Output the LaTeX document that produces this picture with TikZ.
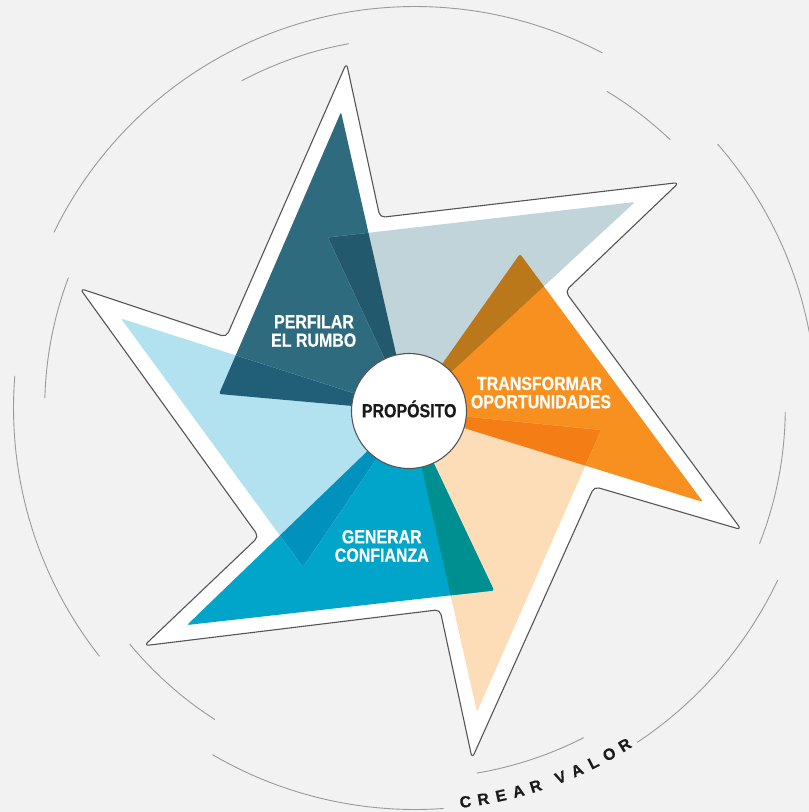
\documentclass[tikz,border=0pt]{standalone}
\usepackage{fontspec}
\setmainfont{Liberation Sans}
\newfontfamily\condfont{Liberation Sans}[FakeStretch=0.84,FakeBold=0.5]
\newfontfamily\ringfont{Liberation Sans}[FakeBold=0.3]
\definecolor{bg}{HTML}{F2F2F2}
\definecolor{ringgray}{HTML}{9A9A9A}
\definecolor{starline}{HTML}{555555}
\definecolor{cteal}{HTML}{2E6B7F}
\definecolor{clgray}{HTML}{C0D4DA}
\definecolor{corange}{HTML}{F7901E}
\definecolor{cpeach}{HTML}{FDDDB8}
\definecolor{cblue}{HTML}{00A5C9}
\definecolor{clblue}{HTML}{B2E2EF}
\definecolor{oTL}{HTML}{23596C}
\definecolor{oTB}{HTML}{205F77}
\definecolor{oLO}{HTML}{BA781A}
\definecolor{oOP}{HTML}{F57D16}
\definecolor{oPB}{HTML}{008F91}
\definecolor{oBL}{HTML}{0092BC}
\definecolor{txtdark}{HTML}{1A1A1A}
\def\trTeal{(341,112) -- (219,394) -- (409,411) -- cycle}
\def\trLgray{(635,202) -- (328,237.5) -- (409,411) -- cycle}
\def\trOrange{(520,254) -- (703,502) -- (409,411) -- cycle}
\def\trPeach{(601,430) -- (477,712) -- (409,411) -- cycle}
\def\trBlue{(494,590.5) -- (187,625) -- (409,411) -- cycle}
\def\trLblue{(121,318.5) -- (303,567) -- (409,411) -- cycle}
\begin{document}
\begin{tikzpicture}[x=1pt,y=-1pt,
  tri/.style={rounded corners=2pt},
  ring/.style={draw=ringgray, line width=0.9pt},
  lbl/.style={font=\condfont\bfseries\fontsize{19}{19}\selectfont, text=white, inner sep=0pt, anchor=base},
  ringletter/.style={font=\ringfont\bfseries\fontsize{16}{16}\selectfont, text=txtdark, inner sep=0pt, anchor=center}]
\useasboundingbox (0,0) rectangle (809,812);
\clip (0,0) rectangle (809,812);
\fill[bg] (0,0) rectangle (809,812);

% broken rings
\begin{scope}[shift={(415,408)}, yscale=-1]
  \draw[ring] (62.2:401.5) arc[start angle=62.2, end angle=154.05, radius=401.5];
  \draw[ring] (175.4:401.5) arc[start angle=175.4, end angle=218.2, radius=401.5];
  \draw[ring] (239.7:401.5) arc[start angle=239.7, end angle=274.1, radius=401.5];
  \draw[ring] (303.6:401.5) arc[start angle=303.6, end angle=334.6, radius=401.5];
  \draw[ring] (-5:401.5) arc[start angle=-5, end angle=41.1, radius=401.5];
  \draw[ring] (100.3:370.3) arc[start angle=100.3, end angle=117.9, radius=370.3];
  \draw[ring] (159.4:370.3) arc[start angle=159.4, end angle=178.45, radius=370.3];
  \draw[ring] (219.6:370.3) arc[start angle=219.6, end angle=237.3, radius=370.3];
  \draw[ring] (279.6:370.3) arc[start angle=279.6, end angle=297.1, radius=370.3];
  \draw[ring] (338.5:370.3) arc[start angle=338.5, end angle=359.4, radius=370.3];
  \draw[ring] (46.4:370.3) arc[start angle=46.4, end angle=58.8, radius=370.3];
  % CREAR VALOR
  \node[ringletter, rotate=7.3]  (l1)  at (277.3:397) {C};
  \node[ringletter, rotate=9.9]  (l2)  at (279.9:397) {R};
  \node[ringletter, rotate=12.5] (l3)  at (282.5:397) {E};
  \node[ringletter, rotate=15.1] (l4)  at (285.1:397) {A};
  \node[ringletter, rotate=17.7] (l5)  at (287.7:397) {R};
  \node[ringletter, rotate=21.5] (l6)  at (291.5:397) {V};
  \node[ringletter, rotate=24.1] (l7)  at (294.1:397) {A};
  \node[ringletter, rotate=26.7] (l8)  at (296.7:397) {L};
  \node[ringletter, rotate=29.3] (l9)  at (299.3:397) {O};
  \node[ringletter, rotate=31.9] (l10) at (301.9:397) {R};
\end{scope}

% star
\coordinate (T0) at (346.5,63);
\coordinate (I0) at (380,217.5);
\coordinate (T1) at (679,182.5);
\coordinate (I1) at (565.2,291.3);
\coordinate (T2) at (741.4,529.7);
\coordinate (I2) at (594.2,486.6);
\coordinate (T3) at (472.1,758.4);
\coordinate (I3) at (440,609.6);
\coordinate (T4) at (144.1,645.7);
\coordinate (I4) at (258.7,536.6);
\coordinate (T5) at (80,288.5);
\coordinate (I5) at (226.3,337.1);
\filldraw[fill=white, draw=starline, line width=1.1pt, rounded corners=5pt, line join=round]
  (T0) -- (I0) -- (T1) -- (I1) -- (T2) -- (I2) -- (T3) -- (I3) -- (T4) -- (I4) -- (T5) -- (I5) -- cycle;

% triangles
\fill[cteal, tri] \trTeal;
\fill[clgray, tri] \trLgray;
\fill[corange, tri] \trOrange;
\fill[cpeach, tri] \trPeach;
\fill[cblue, tri] \trBlue;
\fill[clblue, tri] \trLblue;
% overlaps (multiply colours)
\begin{scope}\path[clip, tri] \trTeal; \fill[oTL, tri] \trLgray; \end{scope}
\begin{scope}\path[clip, tri] \trTeal; \fill[oTB, tri] \trLblue; \end{scope}
\begin{scope}\path[clip, tri] \trLgray; \fill[oLO, tri] \trOrange; \end{scope}
\begin{scope}\path[clip, tri] \trOrange; \fill[oOP, tri] \trPeach; \end{scope}
\begin{scope}\path[clip, tri] \trPeach; \fill[oPB, tri] \trBlue; \end{scope}
\begin{scope}\path[clip, tri] \trBlue; \fill[oBL, tri] \trLblue; \end{scope}

% centre
\node[circle, draw=starline, fill=white, line width=1.1pt, minimum size=115pt, inner sep=0pt] (prop) at (409,411) {};
\node[lbl, text=txtdark] (proptext) at (409.2,417.3) {PROPÓSITO};

% labels
\node[lbl] (perf1) at (314,328.3) {PERFILAR};
\node[lbl] (perf2) at (313.7,346.7) {EL RUMBO};
\node[lbl] (tran1) at (539.5,390) {TRANSFORMAR};
\node[lbl] (tran2) at (541,408.3) {OPORTUNIDADES};
\node[lbl] (gene1) at (381.8,543.3) {GENERAR};
\node[lbl] (gene2) at (381.8,561.7) {CONFIANZA};
\end{tikzpicture}
\end{document}
